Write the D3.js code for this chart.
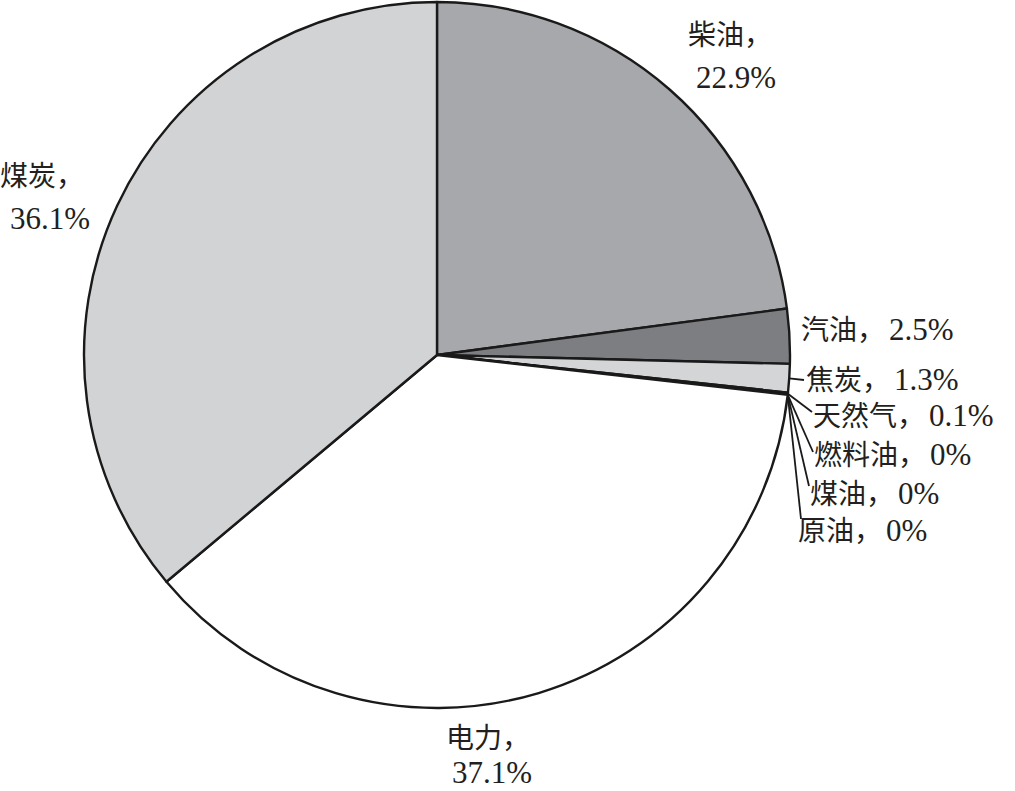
<!DOCTYPE html>
<html>
<head>
<meta charset="utf-8">
<script src="https://cdn.jsdelivr.net/npm/d3@7"></script>
<style>
  body { margin: 0; background: #fff; }
  svg { display: block; }
</style>
</head>
<body>
<script>
// data, clockwise from 12 o'clock
const names = ["柴油", "汽油", "焦炭", "天然气", "燃料油", "煤油", "原油", "电力", "煤炭"];
const values = [22.9, 2.5, 1.3, 0.1, 0, 0, 0, 37.1, 36.1];
const valueLabels = ["22.9%", "2.5%", "1.3%", "0.1%", "0%", "0%", "0%", "37.1%", "36.1%"];
const fills = ["#a7a8ac", "#7d7e82", "#d4d5d7", "#d4d5d7", "#d4d5d7", "#d4d5d7", "#d4d5d7", "#ffffff", "#d2d3d5"];

const width = 1015;
const height = 791;
const cx = 437, cy = 355, radius = 353;

// label placement (text x, baseline y, two lines or one, leader end if any)
const labelLayout = {
  "柴油":   { x: 688, y: 45, two: true, x2: 696, dy: 43 },
  "汽油":   { x: 801, y: 340 },
  "焦炭":   { x: 806, y: 390, leader: [804, 380] },
  "天然气": { x: 813, y: 426, leader: [812, 412] },
  "燃料油": { x: 814, y: 465, leader: [813, 452] },
  "煤油":   { x: 810, y: 504, leader: [809, 486] },
  "原油":   { x: 798, y: 541, leader: [801, 519] },
  "电力":   { x: 446, y: 748, two: true, x2: 452, dy: 35 },
  "煤炭":   { x: 0, y: 186, two: true, x2: 10, dy: 43 }
};

const svg = d3.select("body").append("svg")
  .attr("width", width)
  .attr("height", height);

const data = names.map((n, i) => ({ name: n, value: values[i], label: valueLabels[i], fill: fills[i] }));

const pie = d3.pie().sort(null).value(d => d.value);
const arc = d3.arc().innerRadius(0).outerRadius(radius);

const g = svg.append("g").attr("transform", `translate(${cx},${cy})`);

g.selectAll("path.slice")
  .data(pie(data))
  .enter().append("path")
  .attr("class", "slice")
  .attr("d", arc)
  .attr("fill", d => d.data.fill)
  .attr("stroke", "#1a1a1a")
  .attr("stroke-width", 2.4)
  .attr("stroke-linejoin", "round");

// leader lines for the thin slices
const arcs = pie(data);
arcs.forEach(a => {
  const lay = labelLayout[a.data.name];
  if (!lay.leader) return;
  const mid = (a.startAngle + a.endAngle) / 2;
  const x0 = cx + radius * Math.sin(mid);
  const y0 = cy - radius * Math.cos(mid);
  svg.append("line")
    .attr("x1", x0).attr("y1", y0)
    .attr("x2", lay.leader[0]).attr("y2", lay.leader[1])
    .attr("stroke", "#1a1a1a")
    .attr("stroke-width", 1.8);
});

const cjkFont = "'Noto Sans CJK SC', sans-serif";
const numFont = "'Liberation Serif', 'Times New Roman', serif";

data.forEach(d => {
  const lay = labelLayout[d.name];
  const t = svg.append("text")
    .attr("x", lay.x)
    .attr("y", lay.y)
    .attr("fill", "#231f20");
  t.append("tspan")
    .attr("font-family", cjkFont)
    .attr("font-size", 28)
    .text(d.name + "，");
  const num = t.append("tspan")
    .attr("font-family", numFont)
    .attr("font-size", 31)
    .text(d.label);
  if (lay.two) {
    num.attr("x", lay.x2).attr("dy", lay.dy);
  } else {
    num.attr("dx", 4);
  }
});
</script>
</body>
</html>
